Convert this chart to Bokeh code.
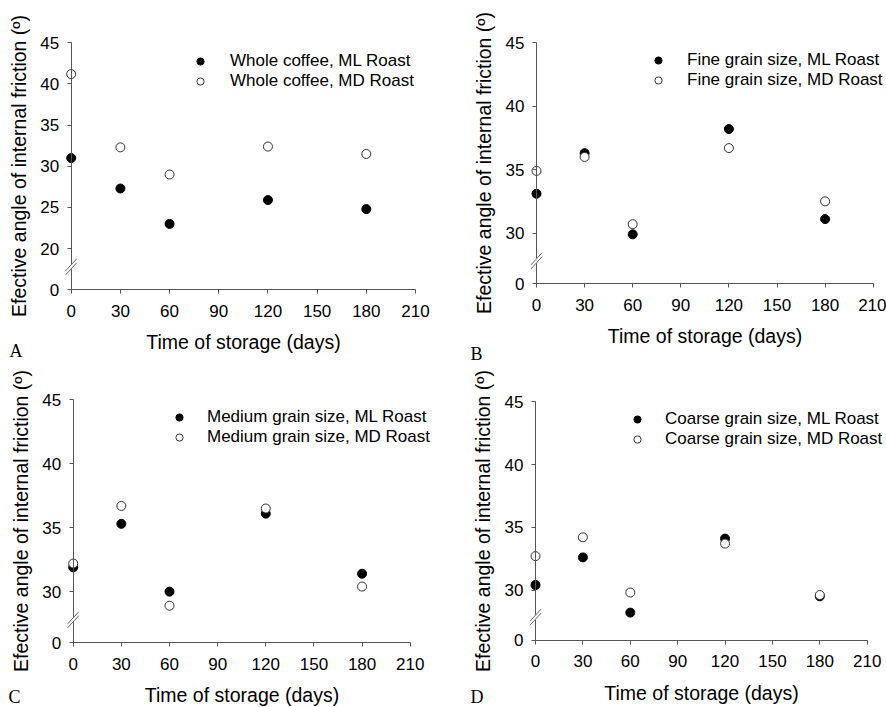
from bokeh.plotting import figure
from bokeh.models import (Range1d, FixedTicker, Legend, LegendItem, Label, Arrow, LinearAxis)
from bokeh.layouts import column, row
from bokeh.embed import file_html
from bokeh.resources import INLINE

# ---------------- data ----------------
days = [0, 30, 60, 120, 180]
x_ticks = [0, 30, 60, 90, 120, 150, 180, 210]

whole_ml = [31.0, 27.3, 23.0, 25.9, 24.8]
whole_md = [41.2, 32.3, 29.0, 32.4, 31.5]
fine_ml = [33.1, 36.3, 29.9, 38.2, 31.1]
fine_md = [34.9, 36.0, 30.7, 36.7, 32.5]
medium_ml = [31.9, 35.3, 30.0, 36.1, 31.4]
medium_md = [32.2, 36.7, 28.9, 36.5, 30.4]
coarse_ml = [30.4, 32.6, 28.2, 34.1, 29.5]
coarse_md = [32.7, 34.2, 29.8, 33.7, 29.6]

y_ticks_a = [20, 25, 30, 35, 40, 45]
y_ticks_bcd = [30, 35, 40, 45]

labels_a = ["Whole coffee, ML Roast", "Whole coffee, MD Roast"]
labels_b = ["Fine grain size, ML Roast", "Fine grain size, MD Roast"]
labels_c = ["Medium grain size, ML Roast", "Medium grain size, MD Roast"]
labels_d = ["Coarse grain size, ML Roast", "Coarse grain size, MD Roast"]

x_title = "Time of storage (days)"
y_title = "Efective angle of internal friction (º)"

FONT = "Liberation Sans"
AX = "#555555"


def panel(ml, md, names, yticks, base, letter, W, H, geo):
    x0, x210, y45, ybase, mx, my1, tx, lx, lcy = geo
    kx = (x210 - x0) / 210.0
    ky = (ybase - y45) / (45.0 - base)
    xr = Range1d(-x0 / kx, 210 + (W - x210) / kx)
    yr = Range1d(base - (H - ybase) / ky, 45 + y45 / ky)
    p = figure(width=W, height=H, x_range=xr, y_range=yr,
               x_axis_location=None, y_axis_location=None,
               output_backend="svg", toolbar_location=None,
               min_border=0, min_border_left=0, min_border_right=0,
               min_border_top=0, min_border_bottom=0)
    p.xgrid.visible = False
    p.ygrid.visible = False
    p.outline_line_color = None

    xa = LinearAxis(fixed_location=base, bounds=(0, 210), ticker=FixedTicker(ticks=x_ticks))
    ya = LinearAxis(fixed_location=0, bounds=(base, 45), ticker=FixedTicker(ticks=[base] + yticks))
    ya.major_label_overrides = {base: "0"}
    for ax in (xa, ya):
        ax.axis_line_color = AX
        ax.major_tick_line_color = AX
        ax.minor_tick_line_color = None
        ax.major_tick_in = 0
        ax.major_tick_out = 4
        ax.major_label_text_font = FONT
        ax.major_label_text_font_size = "17px"
        ax.major_label_text_color = "black"
        ax.axis_label_text_font = FONT
        ax.axis_label_text_font_size = "19.5px"
        ax.axis_label_text_font_style = "normal"
        ax.axis_label_text_color = "black"
    xa.major_label_standoff = 11
    ya.major_label_standoff = 8
    xa.axis_label = x_title
    ya.axis_label = y_title
    xa.axis_label_standoff = 11
    ya.axis_label_standoff = 8
    p.add_layout(xa, "below")
    p.add_layout(ya, "left")

    r1 = p.scatter(days, ml, size=9, marker="circle", fill_color="black", line_color="black")
    r2 = p.scatter(days, md, size=9, marker="circle", fill_color="white", line_color="#333333", line_width=1)

    legend = Legend(items=[LegendItem(label=names[0], renderers=[r1]),
                           LegendItem(label=names[1], renderers=[r2])],
                    location=(mx - 10, H - (my1 - 10 + 40) - 2),
                    border_line_color=None, background_fill_alpha=0,
                    padding=0, margin=0, spacing=0, glyph_width=20, glyph_height=18,
                    label_height=20, label_standoff=int(round(tx - mx - 10)),
                    label_text_font=FONT, label_text_font_size="17px", label_text_color="black")
    p.add_layout(legend)

    # axis break marks (decoration, sized in pixels)
    xpp = 1.0 / kx
    ypp = 1.0 / ky
    yc = base + 23 * ypp
    p.add_layout(Arrow(end=None, x_start=0, x_end=0, y_start=yc - 2.5 * ypp, y_end=yc + 2.5 * ypp,
                       line_color="white", line_width=4))
    for off in (-2.0, 2.0):
        p.add_layout(Arrow(end=None, x_start=-5.5 * xpp, x_end=5.5 * xpp,
                           y_start=yc + (off - 6.0) * ypp, y_end=yc + (off + 6.0) * ypp,
                           line_color="#666666", line_width=1))

    p.add_layout(Label(x=lx, y=H - lcy, x_units="screen", y_units="screen",
                       text=letter, text_font="Liberation Serif", text_font_size="18px",
                       text_baseline="middle", text_align="left", text_color="black"))
    return p


# geometry in pixels: x of day 0, x of day 210, y of 45, y of break base,
# legend marker x, first legend row y, legend text x, letter x, letter centre y
pA = panel(whole_ml, whole_md, labels_a, y_ticks_a, 15, "A", 443, 365,
           (70.7, 415.0, 42.3, 289.3, 200, 59.3, 230, 9, 350))
pB = panel(fine_ml, fine_md, labels_b, y_ticks_bcd, 26, "B", 443, 365,
           (93.0, 429.7, 42.3, 283.3, 215, 58.3, 243.7, 27, 353))
pC = panel(medium_ml, medium_md, labels_c, y_ticks_bcd, 26, "C", 443, 342,
           (72.7, 409.7, 34.3, 277.3, 179, 49.7, 207.3, 8, 331))
pD = panel(coarse_ml, coarse_md, labels_d, y_ticks_bcd, 26, "D", 443, 342,
           (92.0, 423.7, 36.3, 274.7, 194, 51.7, 222.3, 27, 331))

layout = column(row(pA, pB), row(pC, pD))
open("out.html", "w").write(file_html(layout, INLINE))
